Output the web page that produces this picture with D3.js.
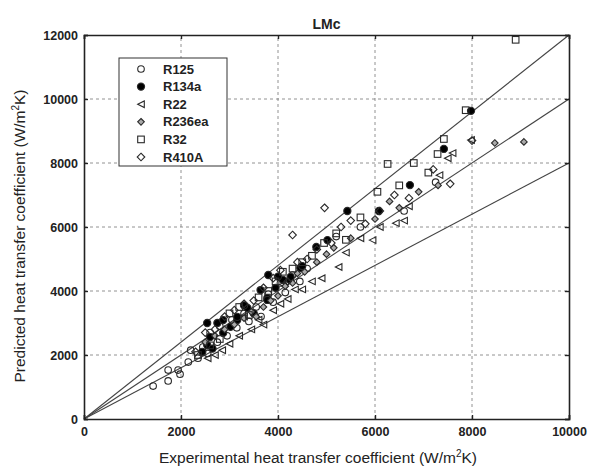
<!DOCTYPE html>
<html><head><meta charset="utf-8">
<script src="https://cdn.jsdelivr.net/npm/d3@7"></script>
<style>body{margin:0;background:#fff;}svg{display:block;font-family:"Liberation Sans",Arial,sans-serif;}</style>
</head><body><div id="chart"></div>
<script>
const titleText = "LMc";
const xTicks = [0,2000,4000,6000,8000,10000];
const yTicks = [0,2000,4000,6000,8000,10000,12000];
const refRatios = [1.2, 1.0, 0.8];
const seriesNames = ["R125","R134a","R22","R236ea","R32","R410A"];
const r125 = [[1425,1030],[1735,1190],[1735,1530],[1940,1530],[1980,1400],[2150,1780],[2200,2150],[2350,1900],[2450,2250],[2550,2050],[2600,2700],[2750,2400],[2800,2900],[2950,2600],[3050,3100],[3150,2850],[3300,3300],[3400,3050],[3550,3500],[3650,3200],[3800,3900],[3900,3650],[4050,4250],[4150,3950],[4300,4500],[4450,4300],[4600,4700],[5200,5700],[5700,6000],[6600,6500],[7250,7400]];
const r134a = [[2440,2100],[2540,2310],[2600,2560],[2540,3000],[2750,3000],[2870,2690],[2870,3090],[3020,2880],[3160,3090],[3160,3190],[3370,3470],[3500,3300],[3640,4030],[3780,3780],[3780,3720],[3800,4500],[3950,4100],[4100,4350],[4250,4340],[4260,4440],[4460,4720],[4500,4780],[4790,5375],[5020,5590],[5430,6500],[6080,6500],[6720,7310],[7420,8440],[7980,9630],[2650,2200],[3300,3550],[4000,4450]];
const r22 = [[2550,1900],[2700,2000],[2850,2150],[3000,2350],[3200,2600],[3450,2800],[3600,3100],[3700,2950],[3900,3400],[4050,3600],[4200,3750],[4350,4050],[4500,4050],[4700,4300],[4900,4400],[5250,4750],[5400,5200],[5700,5650],[5950,5590],[6100,6000],[6430,6120],[6600,6200],[6700,6650],[7330,7620],[7600,8310],[7980,8720],[7500,8150],[3300,3200],[4100,4200]];
const r236ea = [[2500,2400],[2700,2600],[2900,2800],[3100,2950],[3300,3150],[3450,3350],[3550,3200],[3700,3500],[3850,3700],[4000,3850],[4150,4150],[4300,4250],[4400,4550],[4550,4600],[4800,4900],[5000,5150],[5150,5350],[5500,5650],[6000,6250],[6300,6800],[6500,6600],[6900,7100],[7300,7300],[8470,8625],[9070,8660]];
const r32 = [[2350,2000],[2600,2300],[2800,2500],[3000,3300],[3200,3500],[3400,3250],[3600,3800],[3800,4000],[3950,4300],[4100,4600],[4300,4700],[4500,4900],[4700,5100],[4950,5500],[5200,5800],[5400,5600],[5700,6300],[6050,7100],[6260,7970],[6500,7300],[6800,8000],[7100,7700],[7290,8280],[7420,8750],[7870,9650],[8900,11850]];
const r410a = [[2300,2100],[2500,2700],[2700,2800],[2900,3200],[3100,3400],[3300,3600],[3500,3700],[3700,4100],[3900,4400],[4050,4650],[4200,4300],[4300,5750],[4400,4900],[4600,5000],[4800,5300],[4960,6600],[5100,5500],[5300,6000],[5500,6200],[5800,6100],[6100,6500],[6400,7000],[6700,6900],[7200,7800],[7550,7350],[8000,8700]];
const seriesData = [r125, r134a, r22, r236ea, r32, r410a];

const W = 593, H = 468;
const m = {l:84, r:24, t:35, b:49};
const svg = d3.select("#chart").append("svg").attr("width",W).attr("height",H);
const x = d3.scaleLinear().domain([0,10000]).range([m.l, W-m.r]);
const y = d3.scaleLinear().domain([0,12000]).range([H-m.b, m.t]);
const ink = "#222";

// grid
svg.append("g").selectAll("line.gx").data(xTicks.slice(1,-1)).join("line")
  .attr("x1",d=>x(d)).attr("x2",d=>x(d)).attr("y1",y(0)).attr("y2",y(12000))
  .attr("stroke","#777").attr("stroke-width",0.8).attr("stroke-dasharray","3,3");
svg.append("g").selectAll("line.gy").data(yTicks.slice(1,-1)).join("line")
  .attr("y1",d=>y(d)).attr("y2",d=>y(d)).attr("x1",x(0)).attr("x2",x(10000))
  .attr("stroke","#777").attr("stroke-width",0.8).attr("stroke-dasharray","3,3");

// reference lines
svg.append("g").selectAll("line.ref").data(refRatios).join("line")
  .attr("x1",x(0)).attr("y1",y(0))
  .attr("x2",d=> d*10000>12000 ? x(12000/d) : x(10000))
  .attr("y2",d=> y(Math.min(12000,d*10000)))
  .attr("stroke","#444").attr("stroke-width",1.1);

// axes
const ax = svg.append("g").attr("transform",`translate(0,${y(0)})`)
  .call(d3.axisBottom(x).tickValues(xTicks).tickFormat(d3.format("d")).tickSize(-4).tickPadding(6));
const ay = svg.append("g").attr("transform",`translate(${x(0)},0)`)
  .call(d3.axisLeft(y).tickValues(yTicks).tickFormat(d3.format("d")).tickSize(-4).tickPadding(6));
const at = svg.append("g").attr("transform",`translate(0,${y(12000)})`)
  .call(d3.axisTop(x).tickValues(xTicks).tickFormat("").tickSize(-4));
const ar = svg.append("g").attr("transform",`translate(${x(10000)},0)`)
  .call(d3.axisRight(y).tickValues(yTicks).tickFormat("").tickSize(-4));
[ax,ay,at,ar].forEach(g=>{
  g.select(".domain").attr("stroke",ink).attr("stroke-width",1.6);
  g.selectAll(".tick line").attr("stroke",ink).attr("stroke-width",1.4);
  g.selectAll("text").attr("fill","#222").attr("font-size","12.5px").attr("font-weight","bold")
    .attr("font-family","'Liberation Sans',Arial,sans-serif");
});
ax.selectAll(".tick text").attr("dy","0.85em");

// markers
function drawMarker(g, type, cx, cy){
  const s = 3.3;
  let el;
  if(type===0){ el=g.append("circle").attr("cx",cx).attr("cy",cy).attr("r",s).attr("fill","none"); }
  else if(type===1){ el=g.append("circle").attr("cx",cx).attr("cy",cy).attr("r",s+0.3).attr("fill","#000"); }
  else if(type===2){ el=g.append("path").attr("d",`M${cx-s},${cy}L${cx+s},${cy-s}L${cx+s},${cy+s}Z`).attr("fill","none"); }
  else if(type===3){ el=g.append("path").attr("d",`M${cx},${cy-s}L${cx+s},${cy}L${cx},${cy+s}L${cx-s},${cy}Z`).attr("fill","#aaa"); }
  else if(type===4){ el=g.append("rect").attr("x",cx-s).attr("y",cy-s).attr("width",2*s).attr("height",2*s).attr("fill","none"); }
  else { el=g.append("path").attr("d",`M${cx},${cy-s-0.5}L${cx+s+0.5},${cy}L${cx},${cy+s+0.5}L${cx-s-0.5},${cy}Z`).attr("fill","none"); }
  el.attr("stroke","#2a2a2a").attr("stroke-width",1.1);
}
const pts = svg.append("g");
seriesData.forEach((arr,i)=>{
  arr.forEach(p=>drawMarker(pts,i,x(p[0]),y(p[1])));
});

// legend
const lg = svg.append("g");
lg.append("rect").attr("x",119).attr("y",58).attr("width",108).attr("height",108)
  .attr("fill","#fff").attr("stroke","#333").attr("stroke-width",1);
seriesNames.forEach((n,i)=>{
  const cy = 69 + i*17.6;
  drawMarker(lg,i,141,cy);
  lg.append("text").attr("x",163).attr("y",cy+4.5).text(n)
    .attr("font-size","13px").attr("font-weight","bold").attr("fill","#222");
});

// titles
svg.append("text").attr("x",(x(0)+x(10000))/2).attr("y",29).attr("text-anchor","middle")
  .attr("font-size","14px").attr("font-weight","bold").attr("fill","#222").text(titleText);
const xl = svg.append("text").attr("x",318).attr("y",463).attr("text-anchor","middle")
  .attr("font-size","15.5px").attr("fill","#222");
xl.append("tspan").text("Experimental heat transfer coefficient (W/m");
xl.append("tspan").attr("dy",-6).attr("font-size","10px").text("2");
xl.append("tspan").attr("dy",6).text("K)");
const yl = svg.append("text").attr("transform",`translate(25,236) rotate(-90)`)
  .attr("text-anchor","middle").attr("font-size","15.5px").attr("fill","#222");
yl.append("tspan").text("Predicted heat transfer coefficient (W/m");
yl.append("tspan").attr("dy",-6).attr("font-size","10px").text("2");
yl.append("tspan").attr("dy",6).text("K)");
</script></body></html>
